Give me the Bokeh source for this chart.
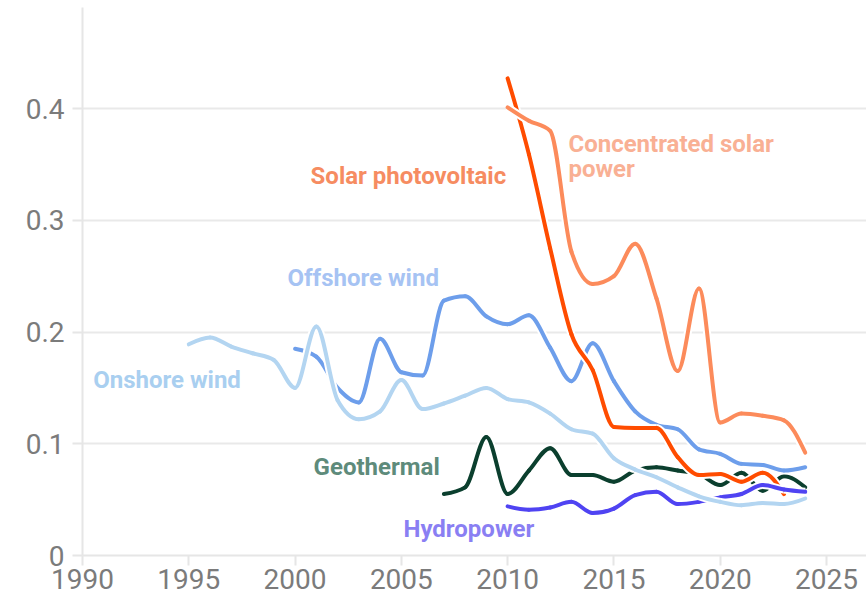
import numpy as np
from bokeh.plotting import figure
from bokeh.models import ColumnDataSource, FixedTicker, Range1d, Label, NumeralTickFormatter
from bokeh.embed import file_html
from bokeh.resources import INLINE

# ---------------- data ----------------
onshore_years = list(range(1995, 2025))
onshore_values = [0.189, 0.195, 0.187, 0.181, 0.175, 0.150, 0.205, 0.139, 0.122, 0.129,
                  0.157, 0.131, 0.136, 0.143, 0.150, 0.140, 0.137, 0.127, 0.113, 0.109,
                  0.087, 0.077, 0.070, 0.061, 0.053, 0.048, 0.045, 0.047, 0.046, 0.051]

offshore_years = list(range(2000, 2025))
offshore_values = [0.185, 0.178, 0.150, 0.137, 0.194, 0.164, 0.161, 0.228, 0.232, 0.214,
                   0.207, 0.215, 0.186, 0.156, 0.190, 0.156, 0.129, 0.117, 0.113, 0.095,
                   0.091, 0.082, 0.081, 0.076, 0.079]

csp_years = list(range(2010, 2025))
csp_values = [0.401, 0.389, 0.380, 0.272, 0.243, 0.250, 0.279, 0.230, 0.165, 0.239,
              0.119, 0.127, 0.125, 0.121, 0.092]

pv_years = list(range(2010, 2024))
pv_values = [0.427, 0.359, 0.275, 0.198, 0.166, 0.115, 0.114, 0.114, 0.088, 0.072,
             0.073, 0.066, 0.074, 0.055]

geo_years = list(range(2007, 2025))
geo_values = [0.055, 0.061, 0.106, 0.055, 0.076, 0.096, 0.072, 0.072, 0.066, 0.076,
              0.079, 0.076, 0.073, 0.063, 0.074, 0.058, 0.071, 0.061]

hydro_years = list(range(2010, 2025))
hydro_values = [0.044, 0.041, 0.043, 0.048, 0.038, 0.042, 0.054, 0.057, 0.046, 0.048,
                0.052, 0.055, 0.063, 0.059, 0.057]

x_ticks = [1990, 1995, 2000, 2005, 2010, 2015, 2020, 2025]
y_ticks = [0, 0.1, 0.2, 0.3, 0.4]

# ---------------- styling ----------------
FONT = "Roboto"
series = [
    # name, years, values, line colour (drawing order bottom -> top)
    ("Geothermal", geo_years, geo_values, "#0b3f2e"),
    ("Offshore wind", offshore_years, offshore_values, "#6d9eeb"),
    ("Solar photovoltaic", pv_years, pv_values, "#ff4c00"),
    ("Hydropower", hydro_years, hydro_values, "#4f43f2"),
    ("Onshore wind", onshore_years, onshore_values, "#b3d5f1"),
    ("Concentrated solar power", csp_years, csp_values, "#fc8b5b"),
]

# label placement (data coords, alphabetic baseline) and colours
labels = [
    ("Solar photovoltaic", 2000.73, 0.3397, "#f68c61"),
    ("Concentrated solar", 2012.86, 0.3684, "#f9b094"),
    ("power", 2012.86, 0.3460, "#f9b094"),
    ("Offshore wind", 1999.64, 0.2484, "#a6c3f3"),
    ("Onshore wind", 1990.50, 0.1571, "#a9cff0"),
    ("Geothermal", 2000.87, 0.0792, "#5e8b7b"),
    ("Hydropower", 2005.10, 0.0237, "#8a7ff3"),
]


def monotone_segments(xs, ys):
    """Cubic Bezier segments of a monotone-x curve through the data points."""
    x = np.asarray(xs, float)
    y = np.asarray(ys, float)
    n = len(x)
    h = np.diff(x)
    s = np.diff(y) / h
    t = np.zeros(n)
    for i in range(1, n - 1):
        h0, h1, s0, s1 = h[i - 1], h[i], s[i - 1], s[i]
        p = (s0 * h1 + s1 * h0) / (h0 + h1)
        sg0 = -1.0 if s0 < 0 else 1.0
        sg1 = -1.0 if s1 < 0 else 1.0
        t[i] = (sg0 + sg1) * min(abs(s0), abs(s1), 0.5 * abs(p))
    t[0] = (3 * s[0] - t[1]) / 2
    t[-1] = (3 * s[-1] - t[-2]) / 2
    dx = h / 3
    return dict(
        x0=x[:-1], y0=y[:-1], x1=x[1:], y1=y[1:],
        cx0=x[:-1] + dx, cy0=y[:-1] + dx * t[:-1],
        cx1=x[1:] - dx, cy1=y[1:] - dx * t[1:],
    )


W, H = 866, 595
LEFT, TOP, BOTTOM = 82, 7, 40
p = figure(width=W, height=H, output_backend="svg", toolbar_location=None,
           x_range=Range1d(1990, 1990 + (W - LEFT) / 21.257),
           y_range=Range1d(0, (H - TOP - BOTTOM) / 1117.5),
           min_border_left=LEFT, min_border_right=0, min_border_top=TOP, min_border_bottom=BOTTOM)
p.outline_line_color = None
p.background_fill_color = "white"
p.border_fill_color = "white"

p.xgrid.visible = False
p.ygrid.ticker = FixedTicker(ticks=y_ticks)
p.ygrid.grid_line_color = "#e9e9e9"
p.ygrid.grid_line_width = 2

for ax in (p.xaxis[0], p.yaxis[0]):
    ax.axis_line_color = "#e6e6e6"
    ax.axis_line_width = 2
    ax.major_tick_line_color = "#e6e6e6"
    ax.major_tick_line_width = 2
    ax.major_tick_out = 10
    ax.major_tick_in = 0
    ax.minor_tick_line_color = None
    ax.major_label_text_font = FONT
    ax.major_label_text_color = "#7b7b7b"

p.xaxis.ticker = FixedTicker(ticks=x_ticks)
p.xaxis.major_label_text_font_size = "28px"
p.xaxis.major_label_standoff = 3
p.yaxis.ticker = FixedTicker(ticks=y_ticks)
p.yaxis.formatter = NumeralTickFormatter(format="0.[0]")
p.yaxis.major_label_text_font_size = "28px"
p.yaxis.major_label_standoff = 8

for name, yrs, vals, col in series:
    src = ColumnDataSource(monotone_segments(yrs, vals))
    kw = dict(x0="x0", y0="y0", x1="x1", y1="y1", cx0="cx0", cy0="cy0", cx1="cx1", cy1="cy1", source=src)
    p.bezier(line_color="white", line_width=8, line_cap="butt", **kw)
    p.bezier(line_color=col, line_width=4, line_cap="round", **kw)

for text, lx, ly, col in labels:
    p.add_layout(Label(x=lx, y=ly, text=text, text_font=FONT, text_font_style="bold",
                       text_font_size="24px", text_color=col,
                       text_baseline="alphabetic", text_align="left"))

open("out.html", "w").write(file_html(p, INLINE))
